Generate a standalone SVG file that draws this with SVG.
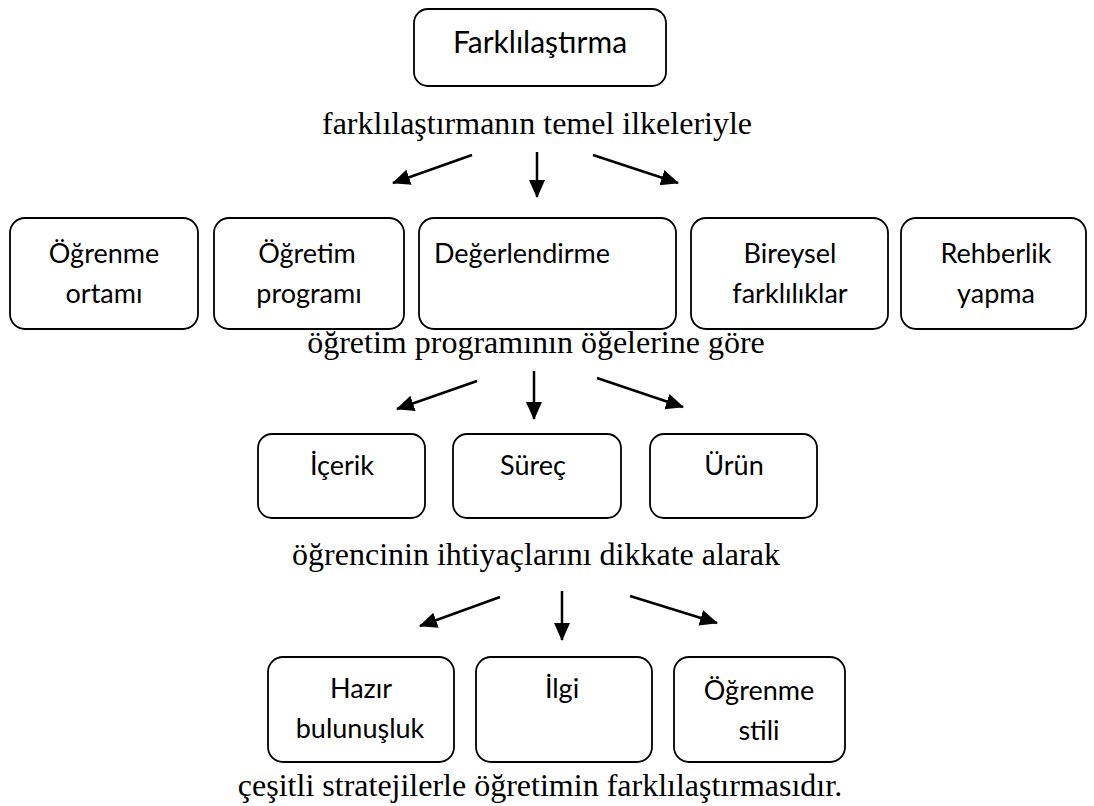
<svg xmlns="http://www.w3.org/2000/svg" width="1094" height="806" viewBox="0 0 1094 806">
<defs>
<style>
.box{fill:#fff;stroke:#000;stroke-width:1.8}
.bt{font-family:Lato,"Open Sans","Liberation Sans",sans-serif;font-size:27px;fill:#000;text-anchor:middle}
.big{font-size:30px}
.st{font-family:"Liberation Serif","Times New Roman",serif;font-size:32px;fill:#000;text-anchor:middle}
.ar{stroke:#000;stroke-width:2.5;fill:none;marker-end:url(#ah)}
</style>
<marker id="ah" markerUnits="userSpaceOnUse" markerWidth="20" markerHeight="18" refX="17" refY="8" orient="auto">
<path d="M0,0 L18,8 L0,16 Z" fill="#000"/>
</marker>
</defs>
<rect width="1094" height="806" fill="#fff"/>
<g id="n-root"><rect class="box" x="414" y="9" width="252" height="77" rx="14"/><text class="bt big" x="540" y="53">Farklılaştırma</text></g>
<text class="st" x="537" y="134">farklılaştırmanın temel ilkeleriyle</text>
<g id="n-ogrenme-ortami"><rect class="box" x="10" y="218" width="188" height="111" rx="15"/><text class="bt" x="104" y="263">Öğrenme</text><text class="bt" x="104" y="303">ortamı</text></g>
<g id="n-ogretim-programi"><rect class="box" x="214" y="218" width="190" height="111" rx="15"/><text class="bt" x="307" y="263">Öğretim</text><text class="bt" x="309" y="303">programı</text></g>
<g id="n-degerlendirme"><rect class="box" x="419" y="218" width="257" height="111" rx="15"/><text class="bt" x="522" y="263">Değerlendirme</text></g>
<g id="n-bireysel"><rect class="box" x="691" y="218" width="197" height="111" rx="15"/><text class="bt" x="790" y="263">Bireysel</text><text class="bt" x="790" y="303">farklılıklar</text></g>
<g id="n-rehberlik"><rect class="box" x="901" y="218" width="185" height="111" rx="15"/><text class="bt" x="996" y="263">Rehberlik</text><text class="bt" x="996" y="303">yapma</text></g>
<text class="st" x="536" y="353">öğretim programının öğelerine göre</text>
<g id="n-icerik"><rect class="box" x="258" y="434" width="167" height="84" rx="14"/><text class="bt" x="342" y="475">İçerik</text></g>
<g id="n-surec"><rect class="box" x="453" y="434" width="168" height="84" rx="14"/><text class="bt" x="533" y="475">Süreç</text></g>
<g id="n-urun"><rect class="box" x="650" y="434" width="167" height="84" rx="14"/><text class="bt" x="734" y="475">Ürün</text></g>
<text class="st" x="536" y="565">öğrencinin ihtiyaçlarını dikkate alarak</text>
<g id="n-hazir"><rect class="box" x="268" y="657" width="186" height="105" rx="15"/><text class="bt" x="361" y="698">Hazır</text><text class="bt" x="360" y="738">bulunuşluk</text></g>
<g id="n-ilgi"><rect class="box" x="476" y="657" width="176" height="105" rx="15"/><text class="bt" x="562" y="698">İlgi</text></g>
<g id="n-stil"><rect class="box" x="674" y="657" width="171" height="105" rx="15"/><text class="bt" x="759" y="700">Öğrenme</text><text class="bt" x="759" y="740">stili</text></g>
<text class="st" x="540" y="796">çeşitli stratejilerle öğretimin farklılaştırmasıdır.</text>
<g id="connectors">
<line class="ar" x1="472" y1="155" x2="393" y2="183"/>
<line class="ar" x1="537" y1="152" x2="537" y2="197"/>
<line class="ar" x1="593" y1="155" x2="678" y2="183"/>
<line class="ar" x1="477" y1="381" x2="397" y2="409"/>
<line class="ar" x1="534" y1="371" x2="534" y2="419"/>
<line class="ar" x1="597" y1="378" x2="683" y2="407"/>
<line class="ar" x1="500" y1="597" x2="420" y2="626"/>
<line class="ar" x1="562" y1="591" x2="562" y2="640"/>
<line class="ar" x1="630" y1="596" x2="717" y2="623"/>
</g>
</svg>
